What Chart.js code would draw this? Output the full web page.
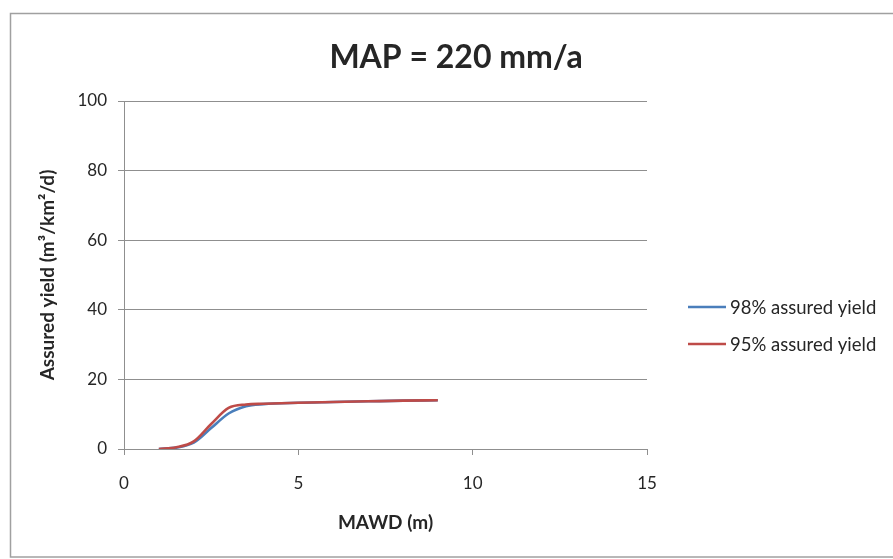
<!DOCTYPE html>
<html>
<head>
<meta charset="utf-8">
<script src="https://cdn.jsdelivr.net/npm/chart.js@4/dist/chart.umd.min.js"></script>
<style>
  html, body { margin: 0; padding: 0; background: #ffffff; }
  #wrap { width: 893px; height: 559px; position: relative; }
</style>
</head>
<body>
<div id="wrap"><canvas id="c" width="893" height="559"></canvas></div>
<script>
// MAWD (m) sample depths
const mawd = [1, 1.5, 2, 2.5, 3, 3.5, 4, 5, 6, 7, 8, 9];
// Assured yield (m3/km2/d)
const yield98 = [0, 0.4, 1.8, 6.0, 10.2, 12.3, 12.9, 13.3, 13.5, 13.7, 13.9, 14.0];
const yield95 = [0, 0.5, 2.2, 7.2, 11.8, 12.8, 13.0, 13.3, 13.5, 13.7, 13.9, 14.0];
const seriesNames = ['98% assured yield', '95% assured yield'];
const seriesColors = ['#4a7ebb', '#be4b48'];
const xTicks = [0, 5, 10, 15];
const yTicks = [0, 20, 40, 60, 80, 100];
const chartTitle = 'MAP = 220 mm/a';
const xTitle = 'MAWD (m)';
const yTitle = 'Assured yield (m³/km²/d)';

const FONT = 'Lato, "Open Sans", sans-serif';
const TEXT = '#262626';
const GRID = '#8f8f8f';

const toPoints = (xs, ys) => xs.map((x, i) => ({ x: x, y: ys[i] }));

// Frame, title and legend drawn around the plot
const decorations = {
  id: 'decorations',
  beforeDraw(chart) {
    const ctx = chart.ctx;
    ctx.save();
    ctx.fillStyle = '#ffffff';
    ctx.fillRect(0, 0, chart.width, chart.height);
    ctx.strokeStyle = '#a0a0a0';
    ctx.lineWidth = 1.5;
    ctx.strokeRect(10.5, 13.5, 900, 543.5);
    ctx.restore();
  },
  afterDraw(chart) {
    const ctx = chart.ctx;
    ctx.save();
    ctx.fillStyle = TEXT;
    ctx.font = 'bold 32px ' + FONT;
    ctx.textAlign = 'center';
    ctx.textBaseline = 'middle';
    ctx.fillText(chartTitle, 456, 58);

    const rows = [307, 344];
    chart.data.datasets.forEach((ds, i) => {
      const y = rows[i];
      ctx.strokeStyle = ds.borderColor;
      ctx.lineWidth = 2.5;
      ctx.beginPath();
      ctx.moveTo(688, y);
      ctx.lineTo(726, y);
      ctx.stroke();
      ctx.fillStyle = TEXT;
      ctx.font = '18.5px ' + FONT;
      ctx.textAlign = 'left';
      ctx.textBaseline = 'middle';
      ctx.fillText(ds.label, 730, y + 1);
    });
    ctx.restore();
  }
};

new Chart(document.getElementById('c'), {
  type: 'scatter',
  data: {
    datasets: [
      {
        label: seriesNames[0],
        data: toPoints(mawd, yield98),
        borderColor: seriesColors[0],
        backgroundColor: seriesColors[0],
        showLine: true,
        borderWidth: 2.6,
        pointRadius: 0,
        cubicInterpolationMode: 'monotone',
        order: 1
      },
      {
        label: seriesNames[1],
        data: toPoints(mawd, yield95),
        borderColor: seriesColors[1],
        backgroundColor: seriesColors[1],
        showLine: true,
        borderWidth: 2.6,
        pointRadius: 0,
        cubicInterpolationMode: 'monotone',
        order: 0
      }
    ]
  },
  options: {
    responsive: false,
    animation: false,
    devicePixelRatio: 1,
    layout: { padding: { left: 0, top: 101, right: 246, bottom: 0 } },
    plugins: {
      legend: { display: false },
      tooltip: { enabled: false },
      title: { display: false }
    },
    scales: {
      x: {
        type: 'linear',
        min: 0,
        max: 15,
        afterFit(scale) { scale.height = 110; },
        afterBuildTicks(scale) { scale.ticks = xTicks.map(v => ({ value: v })); },
        grid: {
          drawOnChartArea: false,
          drawTicks: true,
          tickLength: 6,
          color: GRID,
          lineWidth: 1
        },
        border: { display: true, color: GRID, width: 1 },
        ticks: {
          padding: 18,
          color: TEXT,
          font: { family: FONT, size: 17 },
          maxRotation: 0
        },
        title: {
          display: true,
          text: xTitle,
          color: TEXT,
          font: { family: FONT, size: 19, weight: 'bold' },
          padding: { top: 0, bottom: 25 }
        }
      },
      y: {
        type: 'linear',
        min: 0,
        max: 100,
        afterFit(scale) { scale.width = 124; },
        afterBuildTicks(scale) { scale.ticks = yTicks.map(v => ({ value: v })); },
        grid: {
          drawOnChartArea: true,
          drawTicks: true,
          tickLength: 6,
          color: GRID,
          lineWidth: 1
        },
        border: { display: true, color: GRID, width: 1 },
        ticks: {
          padding: 11,
          color: TEXT,
          font: { family: FONT, size: 17 }
        },
        title: {
          display: true,
          text: yTitle,
          color: TEXT,
          font: { family: FONT, size: 19, weight: 'bold' },
          padding: { top: 36, bottom: 0 }
        }
      }
    }
  },
  plugins: [decorations]
});
</script>
</body>
</html>
